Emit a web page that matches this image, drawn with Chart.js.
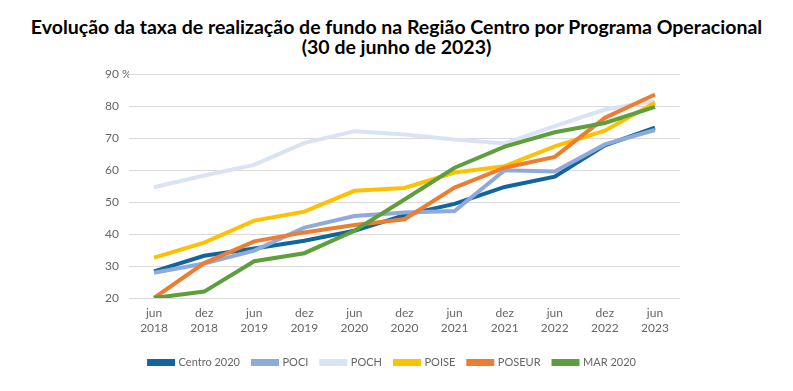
<!DOCTYPE html>
<html lang="pt">
<head>
<meta charset="utf-8">
<title>Taxa de realização de fundo - Região Centro</title>
<script src="https://cdn.jsdelivr.net/npm/chart.js@4/dist/chart.umd.min.js"></script>
<style>
    html, body { margin: 0; padding: 0; background: #fff; }
    #page { width: 793px; height: 391px; overflow: hidden; }
    #title {
        height: 40px;
        padding-top: 17px;
        margin: 0;
        font: bold 19.5px/20px Lato, "Liberation Sans", sans-serif;
        color: #000;
        text-align: center;
        white-space: nowrap;
    }
    #wrap { width: 793px; height: 334px; position: relative; }
</style>
</head>
<body>
<div id="page">
    <h1 id="title">Evolução da taxa de realização de fundo na Região Centro por Programa Operacional<br>(30 de junho de 2023)</h1>
    <div id="wrap"><canvas id="fundChart"></canvas></div>
</div>
<script>
// Data
const months = ['jun', 'dez', 'jun', 'dez', 'jun', 'dez', 'jun', 'dez', 'jun', 'dez', 'jun'];
const years = ['2018', '2018', '2019', '2019', '2020', '2020', '2021', '2021', '2022', '2022', '2023'];

const centro2020 = [28.3, 33.2, 35.5, 37.9, 41.0, 45.9, 49.4, 54.7, 57.9, 67.7, 73.2];
const poci = [27.9, 30.8, 34.8, 42.0, 45.6, 46.7, 47.2, 59.9, 59.5, 68.0, 72.5];
const poch = [54.6, 58.3, 61.6, 68.5, 72.1, 71.1, 69.5, 68.3, 73.7, 78.9, 81.5];
const poise = [32.6, 37.3, 44.2, 47.0, 53.5, 54.4, 59.2, 61.2, 67.4, 72.3, 81.0];
const poseur = [20.0, 30.9, 37.7, 40.5, 42.8, 44.6, 54.5, 60.7, 64.1, 76.3, 83.6];
const mar2020 = [20.0, 22.0, 31.5, 34.0, 41.0, 50.8, 60.7, 67.3, 71.8, 74.7, 79.7];

const seriesNames = ['Centro 2020', 'POCI', 'POCH', 'POISE', 'POSEUR', 'MAR 2020'];
const yTicks = [20, 30, 40, 50, 60, 70, 80, 90];

const colors = {
    centro: '#10659f',
    poci: '#8eaadb',
    poch: '#dae3f3',
    poise: '#ffc000',
    poseur: '#ed7d31',
    mar: '#5f9e3c'
};

const fontFamily = 'Lato, "Liberation Sans", sans-serif';
const textGray = '#666666';

function makeLine(label, data, color, idx) {
    return {
        label: label,
        data: data,
        borderColor: color,
        backgroundColor: color,
        borderWidth: 4,
        pointRadius: 0,
        tension: 0,
        // later series are drawn on top, like the original
        order: 10 - idx
    };
}

const ctx = document.getElementById('fundChart').getContext('2d');

new Chart(ctx, {
    type: 'line',
    data: {
        labels: months.map((m, i) => [m, years[i]]),
        datasets: [
            makeLine(seriesNames[0], centro2020, colors.centro, 0),
            makeLine(seriesNames[1], poci, colors.poci, 1),
            makeLine(seriesNames[2], poch, colors.poch, 2),
            makeLine(seriesNames[3], poise, colors.poise, 3),
            makeLine(seriesNames[4], poseur, colors.poseur, 4),
            makeLine(seriesNames[5], mar2020, colors.mar, 5)
        ]
    },
    options: {
        responsive: true,
        maintainAspectRatio: false,
        animation: false,
        layout: {
            padding: { left: 105, right: 113, top: 17, bottom: 13 }
        },
        scales: {
            x: {
                offset: true,
                grid: { display: false, drawTicks: false },
                border: { display: false },
                ticks: {
                    color: textGray,
                    font: { family: fontFamily, size: 12, lineHeight: 1.25 },
                    padding: 8,
                    maxRotation: 0,
                    autoSkip: false
                },
                afterFit: (scale) => { scale.height = 46; }
            },
            y: {
                min: 20,
                max: 90,
                afterBuildTicks: (scale) => {
                    scale.ticks = yTicks.map(v => ({ value: v }));
                },
                grid: { color: '#d9d9d9', lineWidth: 1, drawTicks: false },
                border: { display: false },
                ticks: {
                    color: textGray,
                    font: { family: fontFamily, size: 12 },
                    crossAlign: 'far',
                    padding: 0,
                    callback: (v) => v === 90 ? '90 %' : String(v)
                },
                afterFit: (scale) => { scale.width = 24; }
            }
        },
        plugins: {
            title: { display: false },
            legend: {
                position: 'bottom',
                labels: {
                    color: textGray,
                    font: { family: fontFamily, size: 11 },
                    boxWidth: 24,
                    boxHeight: 3,
                    padding: 13,
                    sort: (a, b) => a.datasetIndex - b.datasetIndex
                }
            },
            tooltip: { enabled: false }
        }
    }
});
</script>
</body>
</html>
